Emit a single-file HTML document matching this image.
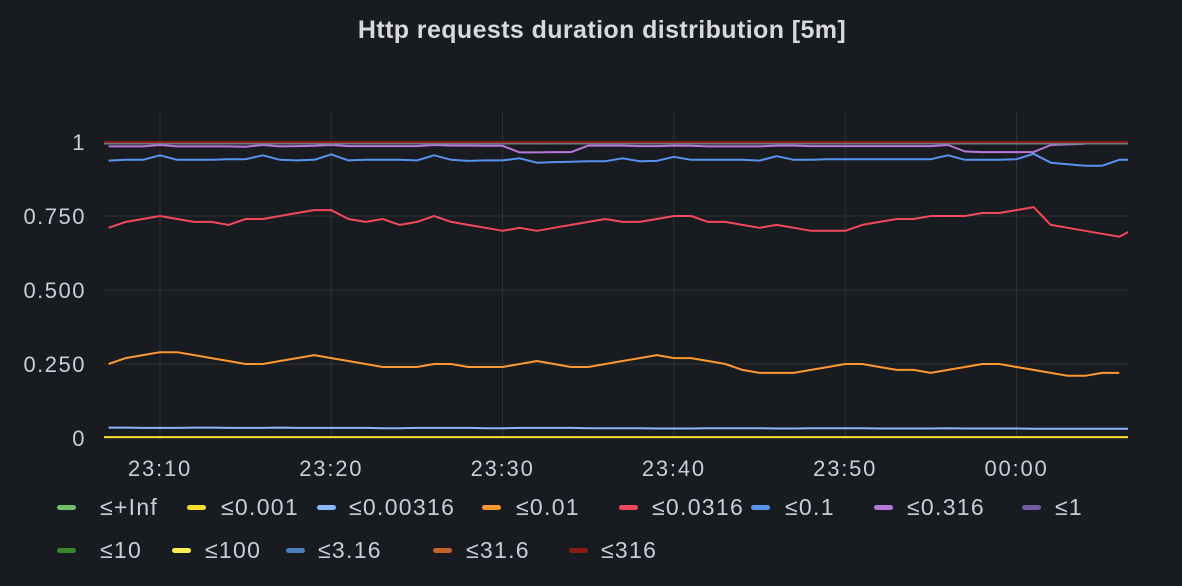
<!DOCTYPE html>
<html><head><meta charset="utf-8"><style>
body{margin:0;background:#181b1f;width:1182px;height:586px;overflow:hidden;font-family:"Liberation Sans",sans-serif;color:#ccccdc}
#title{position:absolute;top:16px;left:0;width:1204px;text-align:center;font-size:25px;font-weight:bold;color:#d8d9dc;letter-spacing:0.4px}
.leg{position:absolute;font-size:23px;color:#ccccdc;white-space:nowrap;letter-spacing:1.3px}
.sw{position:absolute;width:19px;height:5px;border-radius:3px}
</style></head><body>
<div id="title">Http requests duration distribution [5m]</div>
<svg id="chart" width="1182" height="586" style="position:absolute;left:0;top:0"></svg>
<div id="legend"></div>
<script>
const NS="http://www.w3.org/2000/svg";
const startMin=7; // 23:07
const yTicks=[0,0.25,0.5,0.75,1];
const yLabels=["0","0.250","0.500","0.750","1"];
const xTickMins=[10,20,30,40,50,60];
const xLabels=["23:10","23:20","23:30","23:40","23:50","00:00"];
const red=[0.71,0.73,0.74,0.75,0.74,0.73,0.73,0.72,0.74,0.74,0.75,0.76,0.77,0.77,0.74,0.73,0.74,0.72,0.73,0.75,0.73,0.72,0.71,0.70,0.71,0.70,0.71,0.72,0.73,0.74,0.73,0.73,0.74,0.75,0.75,0.73,0.73,0.72,0.71,0.72,0.71,0.70,0.70,0.70,0.72,0.73,0.74,0.74,0.75,0.75,0.75,0.76,0.76,0.77,0.78,0.72,0.71,0.70,0.69,0.68,0.71,0.72];
const orange=[0.25,0.27,0.28,0.29,0.29,0.28,0.27,0.26,0.25,0.25,0.26,0.27,0.28,0.27,0.26,0.25,0.24,0.24,0.24,0.25,0.25,0.24,0.24,0.24,0.25,0.26,0.25,0.24,0.24,0.25,0.26,0.27,0.28,0.27,0.27,0.26,0.25,0.23,0.22,0.22,0.22,0.23,0.24,0.25,0.25,0.24,0.23,0.23,0.22,0.23,0.24,0.25,0.25,0.24,0.23,0.22,0.21,0.21,0.22,0.22];
const blue=[0.937,0.94,0.94,0.955,0.94,0.94,0.94,0.942,0.942,0.955,0.94,0.938,0.94,0.958,0.938,0.94,0.94,0.94,0.938,0.955,0.94,0.936,0.938,0.938,0.945,0.93,0.932,0.933,0.935,0.935,0.945,0.935,0.936,0.95,0.94,0.94,0.94,0.94,0.937,0.952,0.94,0.94,0.942,0.942,0.942,0.942,0.942,0.942,0.942,0.955,0.94,0.94,0.94,0.942,0.96,0.93,0.925,0.92,0.92,0.94,0.94];
const purple=[0.985,0.985,0.985,0.99,0.985,0.985,0.985,0.985,0.984,0.99,0.985,0.986,0.987,0.99,0.986,0.986,0.986,0.986,0.986,0.99,0.988,0.988,0.987,0.987,0.965,0.965,0.966,0.966,0.988,0.988,0.988,0.986,0.986,0.988,0.987,0.985,0.985,0.985,0.985,0.988,0.988,0.986,0.986,0.986,0.986,0.986,0.986,0.986,0.986,0.99,0.968,0.966,0.966,0.966,0.966,0.99,0.992,0.994];
const lightblue=[0.035,0.035,0.034,0.034,0.034,0.035,0.035,0.034,0.034,0.034,0.035,0.034,0.034,0.034,0.034,0.034,0.033,0.033,0.034,0.034,0.034,0.034,0.033,0.033,0.034,0.034,0.034,0.034,0.033,0.033,0.033,0.033,0.032,0.032,0.032,0.033,0.033,0.033,0.033,0.032,0.032,0.033,0.033,0.033,0.033,0.032,0.032,0.032,0.032,0.033,0.032,0.032,0.032,0.032,0.031,0.031,0.031,0.031,0.031,0.031,0.031];
const yellow=[0.003,0.003];
const greyTop=[0.995,0.995];
const darkRed=[1,1];
const X0=104,X1=1128,Y0=438,Y1=142,pxPerMin=17.13,x10=160;
const xs=m=>x10+(m-10)*pxPerMin;
const ys=v=>Y0-(v-0)*(Y0-Y1);
const svg=document.getElementById('chart');
function el(t,a){const e=document.createElementNS(NS,t);for(const k in a)e.setAttribute(k,a[k]);svg.appendChild(e);return e;}
yTicks.forEach((t,i)=>{
 const l=el('line',{x1:X0,x2:X1,y1:ys(t),y2:ys(t),stroke:'#2f3236','stroke-width':1});
 
 
 const tx=el('text',{x:86,y:ys(t)+8,'text-anchor':'end','font-size':22,'letter-spacing':1.5,fill:'#ccccdc','font-family':'Liberation Sans, sans-serif'});
 tx.textContent=yLabels[i];
 
 
});
xTickMins.forEach((m,i)=>{
 const l=el('line',{x1:xs(m),x2:xs(m),y1:Y1-30,y2:Y0,stroke:'#2f3236','stroke-width':1});
 
 
 const tx=el('text',{x:xs(m),y:476,'text-anchor':'middle','font-size':22,'letter-spacing':1.8,fill:'#ccccdc','font-family':'Liberation Sans, sans-serif'});
 tx.textContent=xLabels[i];
 
 
});
const clip=el('clipPath',{id:'c'});const r=document.createElementNS(NS,'rect');
r.setAttribute('x',X0);r.setAttribute('y',100);r.setAttribute('width',X1-X0);r.setAttribute('height',350);clip.appendChild(r);
function series(arr,color,name,flat){
 let pts;
 if(flat){pts=[[X0,ys(arr[0])],[X1,ys(arr[1])]];}
 else pts=arr.map((v,i)=>[xs(startMin+i),ys(v)]);
 const p=el('polyline',{points:pts.map(p=>p[0].toFixed(1)+','+p[1].toFixed(1)).join(' '),fill:'none',stroke:color,'stroke-width':2,'stroke-linejoin':'round','clip-path':'url(#c)'});
 
 
}
series(yellow,'#fade2a','series-le-0.001',true);
series(lightblue,'#8ab8ff','series-le-0.00316');
series(orange,'#ff9830','series-le-0.01');
series(red,'#f2495c','series-le-0.0316');
series(blue,'#5794f2','series-le-0.1');
series(purple,'#b877d9','series-le-0.316');
series(greyTop,'#6e7b8c','series-le-1',true);
series(darkRed,'#8a1c14','series-le-316',true);
const leg=[["≤+Inf","#73bf69",57,100,508],["≤0.001","#fade2a",187,221,508],["≤0.00316","#8ab8ff",317,349,508],["≤0.01","#ff9830",482,516,508],["≤0.0316","#f2495c",619,652,508],["≤0.1","#5794f2",751,785,508],["≤0.316","#b877d9",874,907,508],["≤1","#705da0",1022,1055,508],
["≤10","#37872d",57,100,551],["≤100","#ffee52",172,205,551],["≤3.16","#4a7fc0",286,318,551],["≤31.6","#c4622d",433,466,551],["≤316","#8a1c14",569,601,551]];
const L=document.getElementById('legend');
leg.forEach(g=>{
 const s=document.createElement('div');s.className='sw';s.style.left=g[2]+'px';s.style.top=(g[4]-3)+'px';s.style.background=g[1];
 
 
 L.appendChild(s);
 const t=document.createElement('div');t.className='leg';t.style.left=g[3]+'px';t.style.top=(g[4]-14)+'px';t.textContent=g[0];
 
 
 L.appendChild(t);
});
</script>
</body></html>
